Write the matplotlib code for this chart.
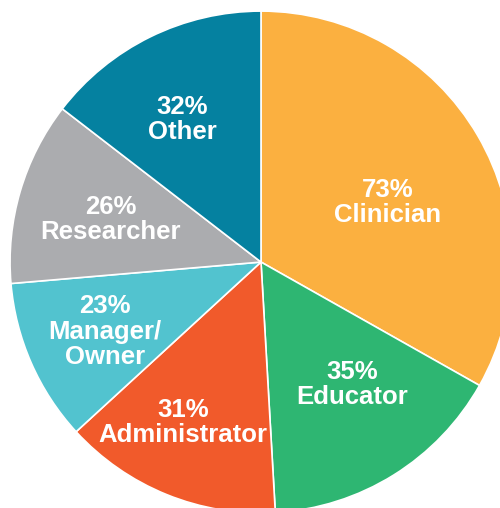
import matplotlib
matplotlib.use('Agg')
import matplotlib.pyplot as plt

roles = ['Clinician', 'Educator', 'Administrator', 'Manager/\nOwner', 'Researcher', 'Other']
values = [73, 35, 31, 23, 26, 32]
colors = ['#FBB040', '#2EB672', '#F15A2B', '#52C3CF', '#ABACAF', '#0581A0']

# label centres, in pie units (radius = 1)
label_pos = [(0.506, 0.237), (0.363, -0.488), (-0.311, -0.639),
             (-0.622, -0.277), (-0.598, 0.169), (-0.315, 0.568)]

fig = plt.figure(figsize=(5, 5.08), dpi=100)
ax = fig.add_axes([0.02, -0.00984, 1.004, 0.988])
ax.pie(values, colors=colors, startangle=90, counterclock=False, radius=1,
       wedgeprops=dict(edgecolor='white', linewidth=1.2))
ax.set_xlim(-1, 1)
ax.set_ylim(-1, 1)
ax.set_aspect('equal')
ax.axis('off')

for role, v, (x, y) in zip(roles, values, label_pos):
    ax.text(x, y, f'{v}%\n{role}', ha='center', va='center', color='white',
            fontsize=18.5, fontweight='bold', family='Liberation Sans',
            linespacing=1.08)

plt.savefig('out.png', dpi=100)
